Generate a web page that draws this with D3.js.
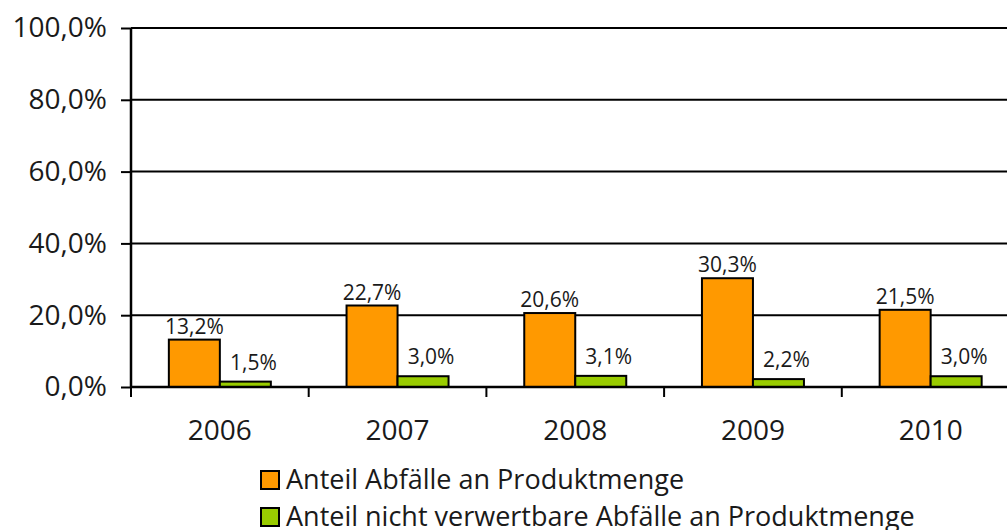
<!DOCTYPE html>
<html>
<head>
<meta charset="utf-8">
<script src="https://cdn.jsdelivr.net/npm/d3@7"></script>
<style>
	body { margin: 0; background: #fff; }
	svg { display: block; font-family: "Open Sans", sans-serif; }
</style>
</head>
<body>
<svg id="chart" width="1007" height="530"></svg>
<script>
// data
var years = ["2006", "2007", "2008", "2009", "2010"];
var seriesNames = ["Anteil Abfälle an Produktmenge", "Anteil nicht verwertbare Abfälle an Produktmenge"];
var abfaelle = [13.2, 22.7, 20.6, 30.3, 21.5];
var nichtVerwertbar = [1.5, 3.0, 3.1, 2.2, 3.0];
var yTicks = [0, 20, 40, 60, 80, 100];
var colors = ["#ff9900", "#99cc00"];

var svg = d3.select("#chart");
var plotL = 131, plotT = 28, plotH = 359, bandW = 177.7;

var x = d3.scaleBand().domain(years).range([plotL, plotL + bandW * years.length]);
var y = d3.scaleLinear().domain([0, 100]).range([plotT + plotH, plotT]);
var barW = 51;
var xs = d3.scaleBand().domain([0, 1]).range([0, barW * 2]);
var offset = (x.bandwidth() - barW * 2) / 2;

var fmt = function(d){ return d3.format(".1f")(d).replace(".", ",") + "%"; };

// gridlines
svg.append("g").selectAll("line").data(yTicks.slice(1)).enter().append("line")
	.attr("x1", plotL).attr("x2", 1007)
	.attr("y1", function(d){ return y(d); }).attr("y2", function(d){ return y(d); })
	.attr("stroke", "#000").attr("stroke-width", 2);

// y axis
var yAxis = svg.append("g").attr("transform", "translate(" + plotL + ",0)")
	.call(d3.axisLeft(y).tickValues(yTicks).tickSize(10).tickPadding(14).tickFormat(fmt));
yAxis.select(".domain").attr("stroke-width", 2.5).attr("d", "M0," + (plotT + plotH) + "V" + plotT);
yAxis.selectAll(".tick line").attr("stroke-width", 2);
yAxis.selectAll("text").attr("font-size", 28).attr("font-family", "Open Sans").attr("fill", "#1a1a1a");

// bars
var rows = years.map(function(yr, i){ return {year: yr, vals: [abfaelle[i], nichtVerwertbar[i]]}; });
var groups = svg.append("g").selectAll("g").data(rows).enter().append("g")
	.attr("transform", function(d){ return "translate(" + (x(d.year) + offset) + ",0)"; });
groups.selectAll("rect").data(function(d){ return d.vals; }).enter().append("rect")
	.attr("x", function(d, j){ return xs(j); })
	.attr("y", function(d){ return y(d); })
	.attr("width", xs.bandwidth())
	.attr("height", function(d){ return y(0) - y(d); })
	.attr("fill", function(d, j){ return colors[j]; })
	.attr("stroke", "#000").attr("stroke-width", 2);
groups.selectAll("text").data(function(d){ return d.vals; }).enter().append("text")
	.attr("x", function(d, j){ return xs(j) + xs.bandwidth() / 2 + (j ? 8 : 0); })
	.attr("y", function(d, j){ return y(d) - (j ? 12 : 6); })
	.attr("text-anchor", "middle").attr("font-size", 21).attr("fill", "#1a1a1a")
	.text(fmt);

// x axis
var xAxis = svg.append("g").attr("transform", "translate(0," + (plotT + plotH) + ")");
xAxis.append("line").attr("x1", plotL).attr("x2", 1007)
	.attr("stroke", "#000").attr("stroke-width", 2.5);
xAxis.selectAll(".tk").data(years).enter().append("line")
	.attr("x1", function(d){ return x(d) + x.bandwidth(); })
	.attr("x2", function(d){ return x(d) + x.bandwidth(); })
	.attr("y1", 0).attr("y2", 10).attr("stroke", "#000").attr("stroke-width", 2);
xAxis.append("line").attr("x1", plotL).attr("x2", plotL).attr("y1", 0).attr("y2", 10)
	.attr("stroke", "#000").attr("stroke-width", 2);
xAxis.selectAll("text").data(years).enter().append("text")
	.attr("x", function(d){ return x(d) + x.bandwidth() / 2; })
	.attr("y", 53).attr("text-anchor", "middle").attr("font-size", 28).attr("fill", "#1a1a1a")
	.text(function(d){ return d; });

// legend
var legend = svg.append("g").selectAll("g").data(seriesNames).enter().append("g")
	.attr("transform", function(d, i){ return "translate(260," + (470 + i * 37) + ")"; });
legend.append("rect").attr("x", 1).attr("y", 1).attr("width", 18).attr("height", 18)
	.attr("fill", function(d, i){ return colors[i]; })
	.attr("stroke", "#000").attr("stroke-width", 2);
legend.append("text").attr("x", 26).attr("y", 19).attr("font-size", 27).attr("fill", "#1a1a1a")
	.text(function(d){ return d; });
</script>
</body>
</html>
